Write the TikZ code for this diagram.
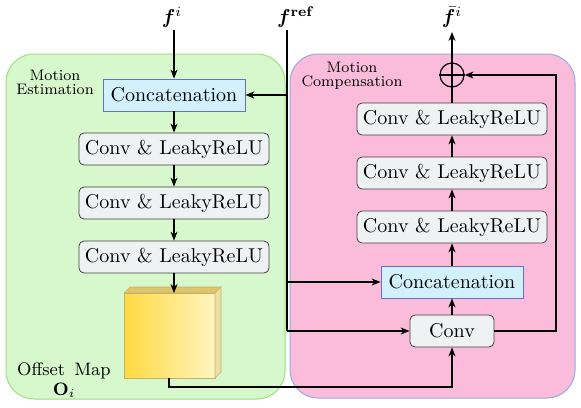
\documentclass[tikz,border=0pt]{standalone}
\usepackage{amsmath,bm}
\usetikzlibrary{arrows.meta,positioning,calc}
\definecolor{mefill}{HTML}{D6F8CC}
\definecolor{medraw}{HTML}{9EDE80}
\definecolor{mcfill}{HTML}{FBBCDC}
\definecolor{mcdraw}{HTML}{92ACE6}
\definecolor{catfill}{HTML}{D2F1FC}
\definecolor{catdraw}{HTML}{6670C4}
\definecolor{convfill}{HTML}{EFF2F3}
\definecolor{cubeL}{HTML}{FFD942}
\definecolor{cubeR}{HTML}{FFF5BE}
\definecolor{cubeTop}{HTML}{DCC66E}
\definecolor{cubeSide}{HTML}{EBDFA4}
\begin{document}
\begin{tikzpicture}[x=0.5pt,y=-0.5pt,
  catbox/.style={draw=catdraw,fill=catfill,minimum width=71pt,minimum height=16pt,inner sep=0pt,font=\normalsize},
  convbox/.style={draw=black!75,fill=convfill,rounded corners=2.5pt,minimum width=95pt,minimum height=16pt,inner sep=0pt},
  arr/.style={-{Stealth[length=4.5pt,width=3.5pt]},line width=0.6pt},
  ln/.style={line width=0.6pt},
  region/.style={rounded corners=14pt,line width=0.5pt},
  lab/.style={font=\fontsize{7.6}{8.6}\selectfont,align=center,inner sep=0pt}]
\useasboundingbox (0,0) rectangle (581,407);
% regions
\draw[region,fill=mefill,draw=medraw] (6,54) rectangle (285,399);
\draw[region,fill=mcfill,draw=mcdraw] (290,54) rectangle (575,398);
\node[lab] (melab) at (55,82) {Motion\\[-1.5pt]Estimation};
\node[lab] (mclab) at (352,76) {Motion\\[-1.5pt]Compensation};
% left column
\node (fi) at (172,17) {$\bm{f}^{i}$};
\node[catbox] (cat1) at (174,95) {Concatenation};
\node[convbox] (c1) at (174,149) {Conv \& LeakyReLU};
\node[convbox] (c2) at (174,203) {Conv \& LeakyReLU};
\node[convbox] (c3) at (174,257) {Conv \& LeakyReLU};
% cube
\shade[left color=cubeL,right color=cubeR,draw=cubeTop!90!black,line width=0.3pt] (124,293) rectangle (215,378);
\fill[cubeTop,draw=cubeTop!90!black,line width=0.3pt] (124,293) -- (130,287) -- (221,287) -- (215,293) -- cycle;
\fill[cubeSide,draw=cubeTop!90!black,line width=0.3pt] (215,293) -- (221,287) -- (221,372) -- (215,378) -- cycle;
\coordinate (cubetop) at (174,293);
\coordinate (cubebot) at (169,378);
\node[font=\small,align=center,inner sep=0pt] (offlab) at (64,380) {Offset\, Map\\[-1pt]$\mathbf{O}_{i}$};
% right column
\node (fref) at (295,17) {$\bm{f}^{\textbf{ref}}$};
\node (fbar) at (452,17) {$\bar{\bm{f}}^{i}$};
\node[draw,circle,line width=0.6pt,minimum size=12pt,inner sep=0pt] (plus) at (452,75) {};
\draw[line width=0.6pt] (plus.north) -- (plus.south) (plus.west) -- (plus.east);
\node[convbox] (r3) at (452,119) {Conv \& LeakyReLU};
\node[convbox] (r2) at (452,173) {Conv \& LeakyReLU};
\node[convbox] (r1) at (452,227) {Conv \& LeakyReLU};
\node[catbox] (cat2) at (452,282) {Concatenation};
\node[convbox,minimum width=42pt] (conv) at (452,331) {Conv};
% coordinates
\coordinate (frefTop) at (287,30);
\coordinate (j1) at (287,95);
\coordinate (j2) at (287,282);
\coordinate (j3) at (287,331);
\coordinate (fbarTop) at (452,32);
% left arrows
\draw[arr] (174,30) -- (cat1.north);
\draw[arr] (cat1) -- (c1);
\draw[arr] (c1) -- (c2);
\draw[arr] (c2) -- (c3);
\draw[arr] (c3.south) -- (cubetop);
% f ref
\draw[ln] (frefTop) -- (j3);
\draw[arr] (j1) -- (cat1.east);
\draw[arr] (j2) -- (cat2.west);
\draw[arr] (j3) -- (conv.west);
% offset to conv
\draw[arr] (cubebot) -- (169,387) -- (conv.south |- 0,387) -- (conv.south);
% right chain
\draw[arr] (conv) -- (cat2);
\draw[arr] (cat2) -- (r1);
\draw[arr] (r1) -- (r2);
\draw[arr] (r2) -- (r3);
\draw[ln] (r3.north) -- (plus.south);
\draw[arr] (plus.north) -- (fbarTop);
\draw[arr] (conv.east) -- (556,331) -- (556,75) -- (plus.east);
\end{tikzpicture}
\end{document}
